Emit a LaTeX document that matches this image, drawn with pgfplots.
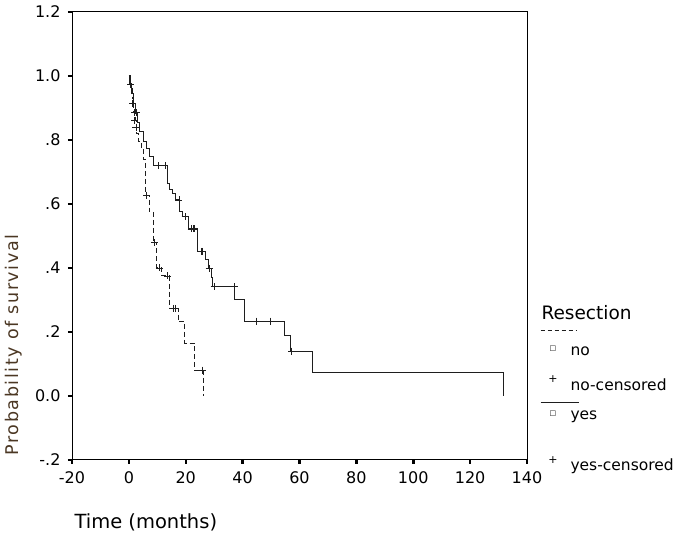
\documentclass[border=0pt]{standalone}
\usepackage{fontspec}
\setmainfont{DejaVu Sans}
\newfontfamily\spaced[LetterSpace=9]{DejaVu Sans}
\usepackage{pgfplots}
\pgfplotsset{compat=1.18}
\definecolor{curve}{RGB}{30,30,30}
\definecolor{ylab}{RGB}{75,55,35}
\begin{document}
\begin{tikzpicture}
\useasboundingbox (0pt,0pt) rectangle (685pt,540pt);
\begin{axis}[at={(72pt,80pt)}, anchor=south west, scale only axis,
  width=455pt, height=448pt,
  xmin=-20, xmax=140, ymin=-0.2, ymax=1.2,
  xtick={-20,0,20,40,60,80,100,120,140},
  ytick={-0.2,0,0.2,0.4,0.6,0.8,1.0,1.2},
  yticklabels={-.2,0.0,.2,.4,.6,.8,1.0,1.2},
  xtick pos=lower, ytick pos=left,
  tick align=outside,
  major tick length=4pt,
  every tick/.style={black, line width=2.5pt},
  axis line style={line width=1pt},
  ticklabel style={font=\fontsize{16}{18}\selectfont},
  xticklabel style={yshift=-4pt},
  yticklabel style={xshift=-4pt},
  /pgf/number format/assume math mode=true,
  clip=false,
]
% Resection = no (dashed)
\addplot[const plot, curve, line width=1pt, dash pattern=on 5pt off 3pt] coordinates {
(0,1.0) (0.5,0.96) (1.2,0.93) (1.8,0.89) (2.3,0.86) (2.8,0.82) (3.5,0.795)
(4.5,0.77) (5.3,0.74) (6.0,0.628) (7.2,0.576) (8.5,0.479) (9.8,0.40)
(11.5,0.375) (14.2,0.274) (17.4,0.232) (19.7,0.165) (23.2,0.081) (26.1,0.0)
};
\addplot[only marks, mark=+, mark size=3.5pt, curve, line width=0.8pt] coordinates {
(2.0,0.86) (2.5,0.84) (6.3,0.628) (9.1,0.479) (10.7,0.40) (13.5,0.375)
(15.6,0.274) (16.3,0.274) (26.0,0.081)
};
% Resection = yes (solid)
\addplot[const plot, curve, line width=1pt] coordinates {
(0,1.0) (0.3,0.975) (1.0,0.945) (1.6,0.915) (2.3,0.885) (3.0,0.855) (3.9,0.826)
(5.1,0.795) (6.3,0.774) (7.4,0.748) (8.6,0.72) (13.5,0.665) (14.3,0.644)
(15.4,0.633) (16.3,0.6125) (17.9,0.576) (19.0,0.56) (20.8,0.522) (24.0,0.498)
(24.3,0.452) (26.8,0.425) (27.9,0.399) (28.9,0.370) (29.3,0.342) (37.1,0.302)
(40.5,0.234) (54.9,0.19) (57.0,0.14) (64.6,0.073) (131.7,0.0)
};
\addplot[only marks, mark=+, mark size=3.5pt, curve, line width=0.8pt] coordinates {
(0.6,0.975) (1.3,0.915) (2.1,0.885) (2.6,0.885) (10.3,0.72) (12.7,0.72)
(17.6,0.6125) (19.8,0.56) (21.9,0.522) (22.6,0.522) (23.2,0.522) (25.5,0.452)
(26.0,0.452) (28.2,0.399) (30.0,0.342) (37.0,0.342) (44.9,0.234) (49.6,0.234)
(57.3,0.14)
};
\end{axis}
% axis titles
\node[anchor=west, font=\fontsize{19.5}{22}\selectfont] at (71pt,18pt) {Time (months)};
\node[rotate=90, text=ylab, font=\spaced\fontsize{17.5}{20}\selectfont] at (14pt,195pt) {Probability of survival};
% legend
\node[anchor=west, font=\fontsize{18.5}{22}\selectfont] at (538pt,227pt) {Resection};
\draw[curve, line width=0.8pt, dash pattern=on 4.5pt off 2.5pt] (540.5pt,209.3pt) -- (577pt,209.3pt);
\node[font=\fontsize{7}{8}\selectfont] at (553pt,191pt) {□};
\node[anchor=west, font=\fontsize{15.5}{18}\selectfont] at (567pt,189pt) {no};
\node[font=\fontsize{11}{12}\selectfont] at (553pt,161pt) {+};
\node[anchor=west, font=\fontsize{15.5}{18}\selectfont] at (567pt,155pt) {no-censored};
\draw[curve, line width=0.9pt] (540.5pt,137.3pt) -- (579pt,137.3pt);
\node[font=\fontsize{7}{8}\selectfont] at (553pt,126pt) {□};
\node[anchor=west, font=\fontsize{15.5}{18}\selectfont] at (567pt,123pt) {yes};
\node[font=\fontsize{11}{12}\selectfont] at (553pt,80pt) {+};
\node[anchor=west, font=\fontsize{15.5}{18}\selectfont] at (567pt,74pt) {yes-censored};
\end{tikzpicture}
\end{document}
